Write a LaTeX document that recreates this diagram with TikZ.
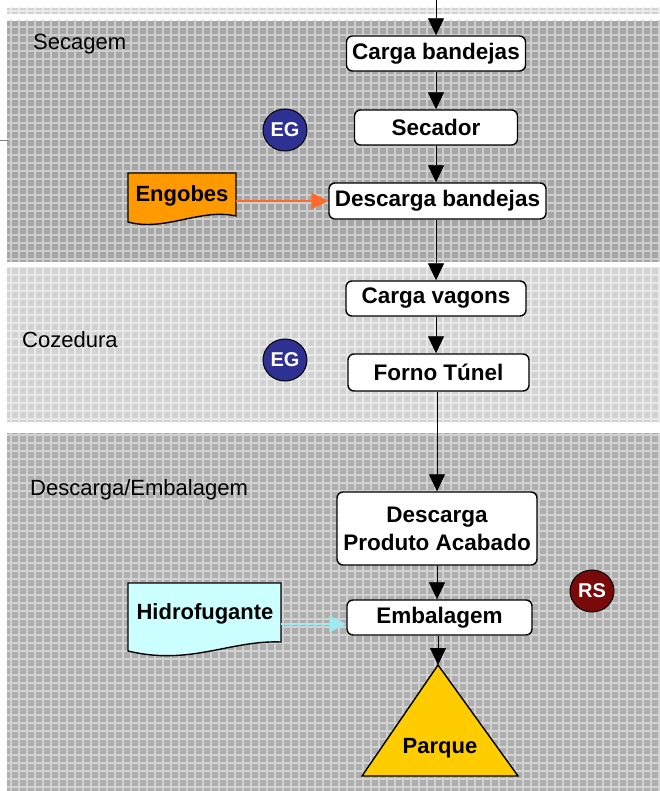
\documentclass[tikz,border=0pt]{standalone}
\usepackage{fontspec}
\setmainfont{Liberation Sans}
\usetikzlibrary{arrows.meta,shapes.geometric}
\definecolor{bandA}{HTML}{A6A6A6}
\definecolor{bandB}{HTML}{D2D2D2}
\definecolor{bandC}{HTML}{AEAEAE}
\definecolor{egblue}{HTML}{2E3192}
\definecolor{rsred}{HTML}{7A0A0A}
\definecolor{engob}{HTML}{FF9900}
\definecolor{hidro}{HTML}{CCFFFF}
\definecolor{parq}{HTML}{FFCC00}
\definecolor{orarrow}{HTML}{FF6A2A}
\definecolor{cyarrow}{HTML}{9EEAF0}
\tikzset{
  x=1pt, y=-1pt,
  stepbox/.style={draw=black, line width=1.4pt, fill=white, rounded corners=6pt,
    inner sep=2pt, font=\fontsize{22.5}{28}\selectfont\bfseries, align=center},
  flow/.style={draw=black, line width=0.8pt, -{Triangle[length=17pt,width=16pt]}},
  badge/.style={ellipse, draw=black, line width=1pt, minimum width=44pt, minimum height=42pt,
    inner sep=0pt, text=white, font=\fontsize{20}{22}\selectfont\bfseries},
  bandlabel/.style={anchor=west, inner sep=0pt, font=\fontsize{22}{24}\selectfont},
  doclabel/.style={inner sep=0pt, font=\fontsize{22}{24}\selectfont\bfseries},
}
\begin{document}
\begin{tikzpicture}
\useasboundingbox (0,0) rectangle (660,791);
\fill[white] (0,0) rectangle (660,791);
% bands
\newcommand{\bandrect}[3]{%
  \fill[#1] #2;
  \begin{scope}
    \clip #2;
    \foreach \gx in {3,11,...,659} {\draw[#3, line width=1.1pt] (\gx,0) -- (\gx,791);}
    \foreach \gy in {3,11,...,791} {\draw[#3, line width=1.1pt] (0,\gy) -- (660,\gy);}
  \end{scope}}
\bandrect{bandB}{(7,8) rectangle (660,14)}{white!55!bandB}
\bandrect{bandA}{(7,21) rectangle (660,262)}{white!45!bandA}
\bandrect{bandB}{(7,267) rectangle (660,422)}{white!50!bandB}
\bandrect{bandC}{(7,433) rectangle (660,791)}{white!45!bandC}
\draw[gray, line width=0.8pt] (0,140) -- (8,140);
% band labels
\node[bandlabel] (lsec) at (33,44) {Secagem};
\node[bandlabel] (lcoz) at (22,340) {Cozedura};
\node[bandlabel] (ldes) at (30,490) {Descarga/Embalagem};
% steps
\node[stepbox, minimum width=179pt, minimum height=35pt] (cb) at (436,53.5) {Carga bandejas};
\node[stepbox, minimum width=163pt, minimum height=35pt] (sec) at (436,127.5) {Secador};
\node[stepbox, minimum width=217pt, minimum height=36pt] (db) at (437.5,201) {Descarga bandejas};
\node[stepbox, minimum width=180pt, minimum height=35pt] (cv) at (436,298.5) {Carga vagons};
\node[stepbox, minimum width=181pt, minimum height=37pt] (ft) at (438.5,372.5) {Forno Túnel};
\node[stepbox, minimum width=200pt, minimum height=73pt] (dpa) at (437,528.5) {Descarga\\Produto Acabado};
\node[stepbox, minimum width=185pt, minimum height=35pt] (emb) at (439.5,617.5) {Embalagem};
% badges
\node[badge, fill=egblue] (eg1) at (285,130) {EG};
\node[badge, fill=egblue] (eg2) at (285,360) {EG};
\node[badge, fill=rsred] (rs) at (592,591) {RS};
% documents
\draw[fill=engob, line width=1.4pt] (128,173) -- (236,173) -- (236,216)
  .. controls (200,208) and (165,232) .. (128,222) -- cycle;
\node[doclabel] (eng) at (182,196) {Engobes};
\draw[fill=hidro, line width=1.4pt] (128,583) -- (281,583) -- (281,642)
  .. controls (230,640) and (190,666) .. (128,651) -- cycle;
\node[doclabel] (hid) at (205,614) {Hidrofugante};
% parque
\coordinate (papex) at (438,665);
\draw[fill=parq, line width=1.4pt] (papex) -- (518,776) -- (362,776) -- cycle;
\node[doclabel] (parque) at (440,748) {Parque};
% connectors
\coordinate (top) at (436,0);
\draw[flow] (top) -- (cb.north);
\draw[flow] (cb.south) -- (sec.north);
\draw[flow] (sec.south) -- (sec.south |- db.north);
\draw[flow] (db.south -| cv.north) -- (cv.north);
\draw[flow] (cv.south) -- (cv.south |- ft.north);
\draw[flow] (ft.south -| dpa.north) -- (dpa.north);
\draw[flow] (dpa.south) -- (dpa.south |- emb.north);
\draw[flow] (emb.south -| papex) -- (papex);
\draw[orarrow, line width=2pt, -{Triangle[length=17pt,width=16pt]}] (236,201) -- (db.west);
\draw[cyarrow, line width=2.5pt, -{Triangle[length=17pt,width=16pt]}] (281,624) -- (emb.west |- 0,624);
\end{tikzpicture}
\end{document}
